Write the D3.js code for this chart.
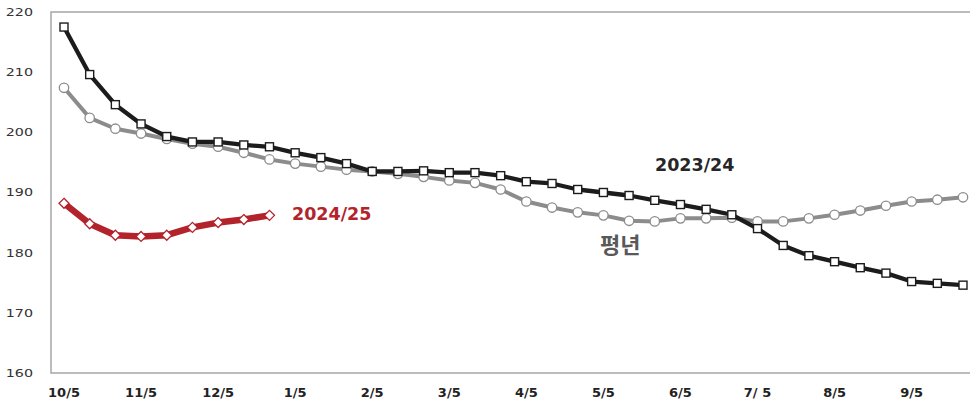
<!DOCTYPE html>
<html>
<head>
    <meta charset="utf-8">
    <title>Price chart</title>
    <style>
        body { margin: 0; background: #fff; }
        svg { display: block; font-family: "DejaVu Sans", "Noto Sans CJK KR", sans-serif; }
        .ytick { font-size: 11px; fill: #333; }
        .xtick { font-size: 13px; font-weight: bold; fill: #222; }
    </style>
</head>
<body>
    <div id="chart"></div>
    <script src="https://d3js.org/d3.v7.min.js"></script>
    <script>
        // x positions are 10-day periods starting 10/5 (36 per marketing year)
        const xLabels = ["10/5", "11/5", "12/5", "1/5", "2/5", "3/5", "4/5", "5/5", "6/5", "7/ 5", "8/5", "9/5"];
        const yTicks = [160, 170, 180, 190, 200, 210, 220];

        const s2023 = [217.5, 209.6, 204.6, 201.4, 199.3, 198.4, 198.4, 197.9, 197.6, 196.6,
            195.8, 194.8, 193.5, 193.5, 193.6, 193.3, 193.3, 192.8, 191.8, 191.5,
            190.5, 190.0, 189.5, 188.7, 188.0, 187.2, 186.3, 184.0, 181.2, 179.5,
            178.5, 177.5, 176.6, 175.2, 174.9, 174.6];
        const sAvg = [207.4, 202.4, 200.6, 199.8, 198.9, 198.1, 197.6, 196.6, 195.5, 194.8,
            194.3, 193.8, 193.5, 193.1, 192.6, 192.0, 191.6, 190.5, 188.5, 187.5,
            186.7, 186.2, 185.3, 185.2, 185.7, 185.7, 185.8, 185.2, 185.2, 185.7,
            186.3, 187.0, 187.8, 188.5, 188.8, 189.2];
        const s2024 = [188.2, 184.8, 182.9, 182.7, 182.9, 184.2, 185.0, 185.5, 186.2];

        const W = 970, H = 403;
        const frame = { left: 51, top: 12, right: 970, bottom: 373 };

        const svg = d3.select("#chart").append("svg")
            .attr("width", W)
            .attr("height", H);

        const x = d3.scaleLinear().domain([0, 35]).range([64, 963]);
        const y = d3.scaleLinear().domain([160, 220]).range([frame.bottom, frame.top]);

        // frame: top, left and bottom lines
        svg.append("path")
            .attr("d", `M${frame.right},${frame.top}H${frame.left}V${frame.bottom}H${frame.right}`)
            .attr("fill", "none")
            .attr("stroke", "#a6a6a6")
            .attr("stroke-width", 1.5);

        // y axis labels (the original's digits are stretched wide)
        svg.selectAll(".ytick").data(yTicks).enter().append("text")
            .attr("class", "ytick")
            .attr("transform", d => `translate(33,${y(d)}) scale(1.3,1)`)
            .attr("dy", "0.35em")
            .attr("text-anchor", "end")
            .text(d => d);

        // x axis labels
        svg.selectAll(".xtick").data(xLabels).enter().append("text")
            .attr("class", "xtick")
            .attr("x", (d, i) => x(i * 3))
            .attr("y", 392)
            .attr("dy", "0.35em")
            .attr("text-anchor", "middle")
            .text(d => d);

        const line = d3.line()
            .x((d, i) => x(i))
            .y(d => y(d));

        // 평년
        svg.append("path").datum(sAvg)
            .attr("d", line)
            .attr("fill", "none")
            .attr("stroke", "#8c8c8c")
            .attr("stroke-width", 4)
            .attr("stroke-linejoin", "round");
        svg.selectAll(".avg").data(sAvg).enter().append("circle")
            .attr("class", "avg")
            .attr("cx", (d, i) => x(i))
            .attr("cy", d => y(d))
            .attr("r", 4.7)
            .attr("fill", "#fff")
            .attr("stroke", "#8c8c8c")
            .attr("stroke-width", 1.3);

        // 2023/24
        svg.append("path").datum(s2023)
            .attr("d", line)
            .attr("fill", "none")
            .attr("stroke", "#1c1c1c")
            .attr("stroke-width", 4.3)
            .attr("stroke-linejoin", "round");
        svg.selectAll(".prev").data(s2023).enter().append("rect")
            .attr("class", "prev")
            .attr("x", (d, i) => x(i) - 4)
            .attr("y", d => y(d) - 4)
            .attr("width", 8)
            .attr("height", 8)
            .attr("fill", "#fff")
            .attr("stroke", "#1c1c1c")
            .attr("stroke-width", 1.4);

        // 2024/25
        svg.append("path").datum(s2024)
            .attr("d", line)
            .attr("fill", "none")
            .attr("stroke", "#b3232b")
            .attr("stroke-width", 6.5)
            .attr("stroke-linejoin", "round");
        svg.selectAll(".cur").data(s2024).enter().append("path")
            .attr("class", "cur")
            .attr("transform", (d, i) => `translate(${x(i)},${y(d)})`)
            .attr("d", "M0,-5L5,0L0,5L-5,0Z")
            .attr("fill", "#fff")
            .attr("stroke", "#b3232b")
            .attr("stroke-width", 1.3);

        // series labels
        svg.append("text")
            .attr("x", 655).attr("y", 171)
            .attr("font-size", 17.5).attr("font-weight", "bold")
            .attr("fill", "#262626")
            .text("2023/24");
        svg.append("text")
            .attr("x", 292).attr("y", 220)
            .attr("font-size", 17.5).attr("font-weight", "bold")
            .attr("fill", "#b3232b")
            .text("2024/25");
        svg.append("text")
            .attr("x", 600).attr("y", 253)
            .attr("font-family", "'Noto Sans CJK KR', sans-serif")
            .attr("font-size", 22).attr("font-weight", "bold")
            .attr("fill", "#595959")
            .text("평년");
    </script>
</body>
</html>
